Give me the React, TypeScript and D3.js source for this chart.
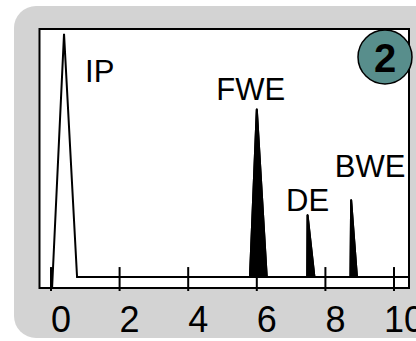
import React from 'react';
import * as d3 from 'd3';

// trace of the chromatogram-like signal (x in units, y relative to IP peak)
const traceX = [0.03, 0.38, 0.76, 5.8, 6.0, 6.29, 7.47, 7.48, 7.68, 8.73, 8.75, 8.92, 10.5];
const traceY = [-0.05, 1.0, 0, 0, 0.69, 0, 0, 0.255, 0, 0, 0.317, 0, 0];

// peak annotations
const peakNames = ['IP', 'FWE', 'DE', 'BWE'];
const peakApexX = [0.38, 6.0, 7.48, 8.75];
const peakApexY = [1.0, 0.69, 0.255, 0.317];
const filledPeaks = [
  { start: 5.8, apex: 6.0, end: 6.29, height: 0.69 },
  { start: 7.47, apex: 7.48, end: 7.68, height: 0.255 },
  { start: 8.73, apex: 8.75, end: 8.92, height: 0.317 },
];

const xTicks = [0, 2, 4, 6, 8, 10];
const badge = '2';

// label placement relative to the apex (px)
const labelOffset = [
  { dx: 21, dy: 48, anchor: 'start' },
  { dx: -6, dy: -9, anchor: 'middle' },
  { dx: 0, dy: -4, anchor: 'middle' },
  { dx: 19, dy: -23, anchor: 'middle' },
];

const W = 416;
const H = 341;
const frame = { left: 39.5, right: 409, top: 29, bottom: 288 };
const font = '"Liberation Sans", Arial, sans-serif';

export default function App() {
  const x = d3.scaleLinear().domain([-0.335, 10.437]).range([frame.left, frame.right]);
  const y = d3.scaleLinear().domain([-0.045, 1.02]).range([frame.bottom, frame.top]);

  const pts: [number, number][] = traceX.map((v, i) => [v, traceY[i]]);
  const line = d3.line<[number, number]>().x(d => x(d[0])).y(d => y(d[1]));

  const peakPath = (p: { start: number; apex: number; end: number; height: number }) =>
    line([[p.start, 0], [p.apex, p.height], [p.end, 0]]) + 'Z';

  const base = y(0);

  return (
    <svg width={W} height={H} style={{ position: 'absolute', left: 0, top: 0 }}>
      <defs>
        <clipPath id="plot">
          <rect x={frame.left} y={frame.top} width={frame.right - frame.left} height={frame.bottom - frame.top} />
        </clipPath>
      </defs>
      <rect x={14} y={6} width={430} height={332} rx={22} fill="#d3d3d3" />
      <rect
        x={frame.left}
        y={frame.top}
        width={frame.right - frame.left}
        height={frame.bottom - frame.top}
        fill="#fff"
      />
      <g clipPath="url(#plot)">
        {filledPeaks.map((p, i) => (
          <path key={i} d={peakPath(p)} fill="#000" stroke="#000" strokeWidth={2} strokeLinejoin="round" />
        ))}
        <path d={line(pts) || ''} fill="none" stroke="#000" strokeWidth={2} />
      </g>
      {xTicks.map(t => (
        <line key={t} x1={x(t)} x2={x(t)} y1={base - 10} y2={frame.bottom + 3} stroke="#000" strokeWidth={2} />
      ))}
      <rect
        x={frame.left}
        y={frame.top}
        width={frame.right - frame.left}
        height={frame.bottom - frame.top}
        fill="none"
        stroke="#000"
        strokeWidth={2}
      />
      {xTicks.map(t => (
        <text key={t} x={x(t) + 10} y={332} textAnchor="middle" fontFamily={font} fontSize={36} fill="#000">
          {t}
        </text>
      ))}
      {peakNames.map((n, i) => (
        <text
          key={n}
          x={x(peakApexX[i]) + labelOffset[i].dx}
          y={y(peakApexY[i]) + labelOffset[i].dy}
          textAnchor={labelOffset[i].anchor}
          fontFamily={font}
          fontSize={31}
          fill="#000"
        >
          {n}
        </text>
      ))}
      <circle cx={385} cy={57} r={27} fill="#588e8c" stroke="#000" strokeWidth={1.5} />
      <text x={385} y={72} textAnchor="middle" fontFamily={font} fontSize={40} fontWeight="bold" fill="#000">
        {badge}
      </text>
    </svg>
  );
}
